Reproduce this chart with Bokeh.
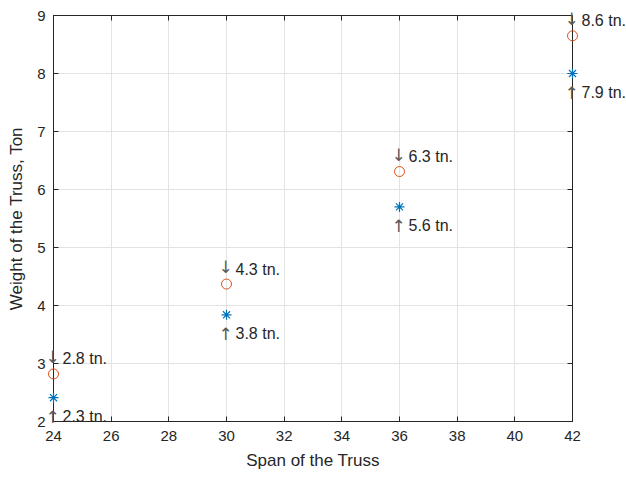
from bokeh.plotting import figure
from bokeh.models import ColumnDataSource, LinearAxis, Range1d, FixedTicker, CustomJSTickFormatter
from bokeh.core.properties import value
from bokeh.embed import file_html
from bokeh.resources import INLINE

span = [24, 30, 36, 42]
weight_a = [2.82, 4.37, 6.31, 8.65]
weight_b = [2.41, 3.84, 5.70, 8.00]
label_a = ["2.8 tn.", "4.3 tn.", "6.3 tn.", "8.6 tn."]
label_b = ["2.3 tn.", "3.8 tn.", "5.6 tn.", "7.9 tn."]
arrow_a = ["\u2193", "\u2193", "\u2193", "\u2193"]
arrow_b = ["\u2191", "\u2191", "\u2191", "\u2191"]
x_ticks = [24, 26, 28, 30, 32, 34, 36, 38, 40, 42]
y_ticks = [2, 3, 4, 5, 6, 7, 8, 9]

FONT = "Liberation Sans"
DARK = "#262626"

p = figure(width=626, height=472, output_backend="svg", toolbar_location=None,
           x_range=Range1d(24, 42), y_range=Range1d(2, 9),
           min_border_left=53, min_border_right=54, min_border_top=15, min_border_bottom=45)
p.outline_line_color = DARK
p.outline_line_width = 1
p.background_fill_color = "white"

# box ticks on top and right (no labels)
blank = CustomJSTickFormatter(code="return ''")
p.add_layout(LinearAxis(formatter=blank), "above")
p.add_layout(LinearAxis(formatter=blank), "right")

for ax in p.xaxis + p.yaxis:
    ax.axis_line_color = DARK
    ax.major_tick_line_color = DARK
    ax.major_tick_in = 5
    ax.major_tick_out = 0
    ax.minor_tick_line_color = None
    ax.major_label_text_font = FONT
    ax.major_label_text_font_size = "15px"
    ax.major_label_text_color = DARK
    ax.axis_label_text_font = FONT
    ax.axis_label_text_font_size = "17px"
    ax.axis_label_text_font_style = "normal"
    ax.axis_label_text_color = DARK

for ax in p.xaxis:
    ax.ticker = FixedTicker(ticks=x_ticks)
for ax in p.yaxis:
    ax.ticker = FixedTicker(ticks=y_ticks)

p.above[0].major_label_standoff = 0
p.right[0].major_label_standoff = 0

p.below[0].axis_label = "Span of the Truss"
p.left[0].axis_label = "Weight of the Truss, Ton"
p.below[0].major_label_standoff = 9
p.left[0].major_label_standoff = 8
p.below[0].axis_label_standoff = 7
p.left[0].axis_label_standoff = 8

p.xgrid.ticker = FixedTicker(ticks=x_ticks)
p.ygrid.ticker = FixedTicker(ticks=y_ticks)
p.grid.grid_line_color = "#e3e3e3"
p.grid.grid_line_width = 1

src = ColumnDataSource(dict(x=span, a=weight_a, b=weight_b, la=label_a, lb=label_b,
                            aa=arrow_a, ab=arrow_b))

ra = p.scatter("x", "a", source=src, marker="circle", size=10, fill_color=None,
               line_color="#D95319", line_width=1)
rb = p.scatter("x", "b", source=src, marker="asterisk", size=10,
               line_color="#0072BD", line_width=1.2)
ra.level = "overlay"
rb.level = "overlay"

renderers = []
renderers.append(p.text("x", "a", text="aa", source=src, x_offset=-1, y_offset=-17,
                        text_font=value("DejaVu Sans"), text_font_size="17px",
                        text_color="#5a5a5a", text_baseline="middle", text_align="center"))
renderers.append(p.text("x", "b", text="ab", source=src, x_offset=-1, y_offset=19,
                        text_font=value("DejaVu Sans"), text_font_size="17px",
                        text_color="#5a5a5a", text_baseline="middle", text_align="center"))
renderers.append(p.text("x", "a", text="la", source=src, x_offset=9, y_offset=-15,
                        text_font=value(FONT), text_font_size="16px", text_color=DARK,
                        text_baseline="middle", text_align="left"))
renderers.append(p.text("x", "b", text="lb", source=src, x_offset=9, y_offset=19,
                        text_font=value(FONT), text_font_size="16px", text_color=DARK,
                        text_baseline="middle", text_align="left"))
for r in renderers:
    r.level = "overlay"

open("out.html", "w").write(file_html(p, INLINE))
